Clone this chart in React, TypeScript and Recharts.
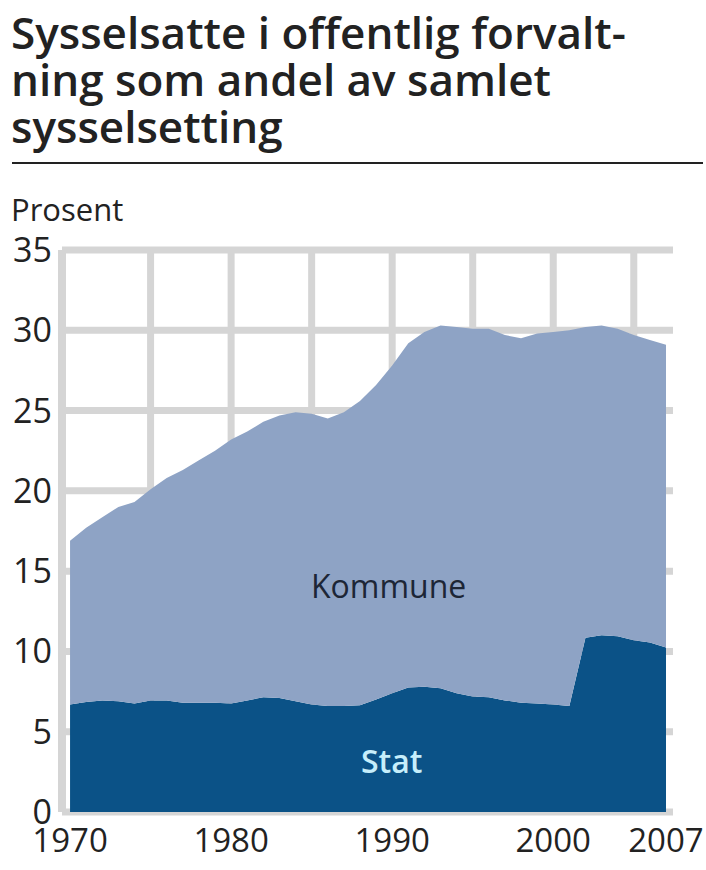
import React from "react";
import { AreaChart, Area, XAxis, YAxis, CartesianGrid } from "recharts";

const years = [
  1970, 1971, 1972, 1973, 1974, 1975, 1976, 1977, 1978, 1979,
  1980, 1981, 1982, 1983, 1984, 1985, 1986, 1987, 1988, 1989,
  1990, 1991, 1992, 1993, 1994, 1995, 1996, 1997, 1998, 1999,
  2000, 2001, 2002, 2003, 2004, 2005, 2006, 2007,
];

const statValues = [
  6.7, 6.85, 6.95, 6.9, 6.75, 6.95, 6.95, 6.8, 6.8, 6.8,
  6.75, 6.95, 7.15, 7.1, 6.9, 6.7, 6.6, 6.6, 6.65, 7.0,
  7.4, 7.75, 7.8, 7.7, 7.4, 7.2, 7.15, 6.95, 6.8, 6.75,
  6.7, 6.6, 10.85, 11.0, 10.95, 10.7, 10.55, 10.25,
];

const kommuneValues = [
  10.2, 10.85, 11.4, 12.1, 12.55, 13.15, 13.85, 14.5, 15.1, 15.7,
  16.45, 16.75, 17.15, 17.6, 18.0, 18.1, 17.9, 18.3, 18.95, 19.6,
  20.4, 21.45, 22.1, 22.6, 22.8, 22.9, 22.95, 22.75, 22.7, 23.05,
  23.2, 23.4, 19.35, 19.3, 19.15, 19.0, 18.85, 18.85,
];

const xTicks = [1970, 1980, 1990, 2000, 2007];
const gridYears = [1975, 1980, 1985, 1990, 1995, 2000, 2005];
const yTicks = [0, 5, 10, 15, 20, 25, 30, 35];

const titleLines = [
  "Sysselsatte i offentlig forvalt-",
  "ning som andel av samlet",
  "sysselsetting",
];

const data = years.map((year, i) => ({
  year,
  stat: statValues[i],
  kommune: kommuneValues[i],
}));

const FONT = "'Open Sans', 'DejaVu Sans', sans-serif";
const GRID = "#d5d5d5";

export default function App() {
  return (
    <div
      style={{
        position: "absolute",
        left: 0,
        top: 0,
        width: 706,
        height: 870,
        background: "#ffffff",
        overflow: "hidden",
        fontFamily: FONT,
      }}
    >
      {titleLines.map((line, i) => (
        <div
          key={i}
          style={{
            position: "absolute",
            left: 11,
            top: 9 + i * 47,
            fontSize: 44,
            lineHeight: "47px",
            fontWeight: 600,
            color: "#222222",
            whiteSpace: "nowrap",
          }}
        >
          {line}
        </div>
      ))}
      <div
        style={{
          position: "absolute",
          left: 12,
          top: 162,
          width: 691,
          height: 2,
          background: "#222222",
        }}
      />
      <div
        style={{
          position: "absolute",
          left: 11,
          top: 194,
          fontSize: 31,
          lineHeight: "31px",
          color: "#222222",
          whiteSpace: "nowrap",
        }}
      >
        Prosent
      </div>
      <div style={{ position: "absolute", left: 0, top: 0 }}>
        <AreaChart
          width={706}
          height={870}
          data={data}
          margin={{ top: 250, right: 33, bottom: 0, left: 0 }}
        >
          <CartesianGrid
            horizontalValues={yTicks}
            verticalValues={gridYears}
            stroke={GRID}
            strokeWidth={7}
          />
          <XAxis
            dataKey="year"
            type="number"
            domain={[1969.5, 2007.435]}
            ticks={xTicks}
            height={58}
            axisLine={false}
            tickLine={false}
            tickSize={0}
            tickMargin={17}
            tick={{ fill: "#222222", fontSize: 33, fontFamily: FONT }}
            interval={0}
          />
          <YAxis
            type="number"
            domain={[0, 35]}
            ticks={yTicks}
            width={62}
            axisLine={{ stroke: GRID, strokeWidth: 8 }}
            tickLine={false}
            tickSize={0}
            tickMargin={10}
            tick={{ fill: "#222222", fontSize: 34, fontFamily: FONT }}
            interval={0}
          />
          <Area
            type="linear"
            dataKey="stat"
            stackId="1"
            stroke="none"
            fill="#0b5287"
            fillOpacity={1}
            isAnimationActive={false}
          />
          <Area
            type="linear"
            dataKey="kommune"
            stackId="1"
            stroke="none"
            fill="#8ea3c5"
            fillOpacity={1}
            isAnimationActive={false}
          />
        </AreaChart>
      </div>
      <div
        style={{
          position: "absolute",
          left: 311,
          top: 570,
          fontSize: 32,
          lineHeight: "32px",
          color: "#1d2636",
          whiteSpace: "nowrap",
        }}
      >
        Kommune
      </div>
      <div
        style={{
          position: "absolute",
          left: 361,
          top: 745,
          fontSize: 32,
          lineHeight: "32px",
          fontWeight: 600,
          color: "#c6eefb",
          whiteSpace: "nowrap",
        }}
      >
        Stat
      </div>
    </div>
  );
}
